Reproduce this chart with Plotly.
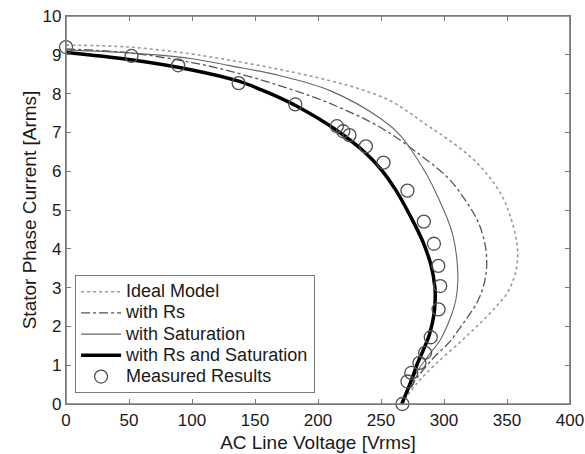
import plotly.graph_objects as go

# Ideal model (dotted)
ideal_v = [0, 50, 100, 130, 170, 210, 235, 257, 272, 285, 297, 320, 336, 347, 353, 357, 358.5, 357.5, 355, 350, 343, 336, 325, 313, 294, 279, 266]
ideal_i = [9.25, 9.2, 9.02, 8.86, 8.62, 8.33, 8.1, 7.82, 7.52, 7.22, 6.96, 6.4, 5.85, 5.3, 4.8, 4.3, 3.9, 3.5, 3.2, 2.85, 2.57, 2.32, 1.97, 1.6, 1.05, 0.55, 0.0]

# with Rs (dash-dot)
rs_v = [0, 50, 100, 130, 170, 210, 250, 281, 304, 318, 327, 332, 333.8, 333.5, 331, 326, 319, 312, 305, 290, 277, 266]
rs_i = [9.15, 9.05, 8.8, 8.58, 8.2, 7.74, 7.12, 6.42, 5.8, 5.2, 4.7, 4.2, 3.8, 3.4, 3.0, 2.6, 2.25, 1.93, 1.62, 1.13, 0.6, 0.0]

# with Saturation (thin solid)
sat_v = [0, 50, 100, 130, 170, 210, 250, 266, 275, 289, 297, 303, 307, 310, 311, 309.5, 306, 297, 287, 277, 266]
sat_i = [9.12, 9.05, 8.9, 8.72, 8.46, 8.07, 7.35, 6.9, 6.5, 5.75, 5.2, 4.75, 4.35, 3.8, 3.2, 2.7, 2.3, 1.65, 1.22, 0.75, 0.0]

# with Rs and Saturation (bold)
rss_v = [0, 50, 100, 137, 160, 184, 215, 236, 250, 262, 274, 283, 289.5, 292.8, 293, 292, 288.5, 284, 279, 274, 266.5]
rss_i = [9.06, 8.88, 8.61, 8.32, 8.03, 7.66, 7.05, 6.52, 6.05, 5.5, 4.8, 4.2, 3.6, 3.0, 2.7, 2.3, 1.8, 1.42, 1.05, 0.6, 0.0]

# Measured results
meas_v = [0, 52, 89, 137, 182, 215, 220, 225, 238, 252, 271, 284, 292, 295.5, 297, 295.7, 289.5, 285, 280.5, 274, 271, 267]
meas_i = [9.2, 8.97, 8.73, 8.27, 7.72, 7.16, 7.03, 6.93, 6.64, 6.22, 5.5, 4.7, 4.13, 3.56, 3.04, 2.44, 1.72, 1.32, 1.06, 0.8, 0.58, 0.0]

series_names = ["Ideal Model", "with Rs", "with Saturation", "with Rs and Saturation", "Measured Results"]

x_ticks = [0, 50, 100, 150, 200, 250, 300, 350, 400]
y_ticks = [0, 1, 2, 3, 4, 5, 6, 7, 8, 9, 10]


def lbl(s):
    return "<span style='font-size:18px'>" + s + "</span>"


fig = go.Figure()
fig.add_trace(go.Scatter(x=ideal_v, y=ideal_i, mode="lines", name=lbl(series_names[0]),
                         line=dict(color="#9a9a9a", width=1.6, dash="dot", shape="spline", smoothing=1)))
fig.add_trace(go.Scatter(x=rs_v, y=rs_i, mode="lines", name=lbl(series_names[1]),
                         line=dict(color="#555555", width=1.3, dash="dashdot", shape="spline", smoothing=1)))
fig.add_trace(go.Scatter(x=sat_v, y=sat_i, mode="lines", name=lbl(series_names[2]),
                         line=dict(color="#666666", width=1.1, shape="spline", smoothing=1)))
fig.add_trace(go.Scatter(x=rss_v, y=rss_i, mode="lines", name=lbl(series_names[3]),
                         line=dict(color="#000000", width=3.5, shape="spline", smoothing=1)))
fig.add_trace(go.Scatter(x=meas_v, y=meas_i, mode="markers", name=lbl(series_names[4]),
                         cliponaxis=False,
                         marker=dict(symbol="circle-open", size=13, color="#505050",
                                     line=dict(width=1.3, color="#505050"))))

axis_common = dict(showline=True, linecolor="#7a7a7a", linewidth=1.3, mirror="ticks",
                   ticks="inside", ticklen=5, tickcolor="#7a7a7a", showgrid=False,
                   zeroline=False, automargin=False, ticklabeloverflow="allow",
                   tickfont=dict(size=17, color="#1a1a1a"))

fig.update_layout(
    width=585, height=454,
    margin=dict(l=66, r=15, t=16, b=50),
    paper_bgcolor="white", plot_bgcolor="white",
    font=dict(family="Liberation Sans, Arial, sans-serif", color="#1a1a1a"),
    xaxis=dict(range=[0, 400], tickvals=x_ticks,
               title=dict(text="AC Line Voltage [Vrms]", font=dict(size=19), standoff=7),
               **axis_common),
    yaxis=dict(range=[0, 10], tickvals=y_ticks,
               title=dict(text="Stator Phase Current [Arms]", font=dict(size=19), standoff=0),
               **axis_common),
    legend=dict(x=0.018, y=0.028, xanchor="left", yanchor="bottom",
                bgcolor="white", bordercolor="#7a7a7a", borderwidth=1,
                font=dict(size=14, color="#1a1a1a"), tracegroupgap=0,
                itemwidth=40),
    showlegend=True,
)

# axes frame (box around the plotting area)
fig.add_shape(type="rect", xref="paper", yref="paper", x0=0, x1=1, y0=0, y1=1,
              line=dict(color="#7a7a7a", width=1.6), layer="above")

# remove the default 8px page margin so the figure fills the window exactly
fig.write_html("out.html", config={"displayModeBar": False},
               post_script="document.body.style.margin='0';document.body.style.overflow='hidden';")
